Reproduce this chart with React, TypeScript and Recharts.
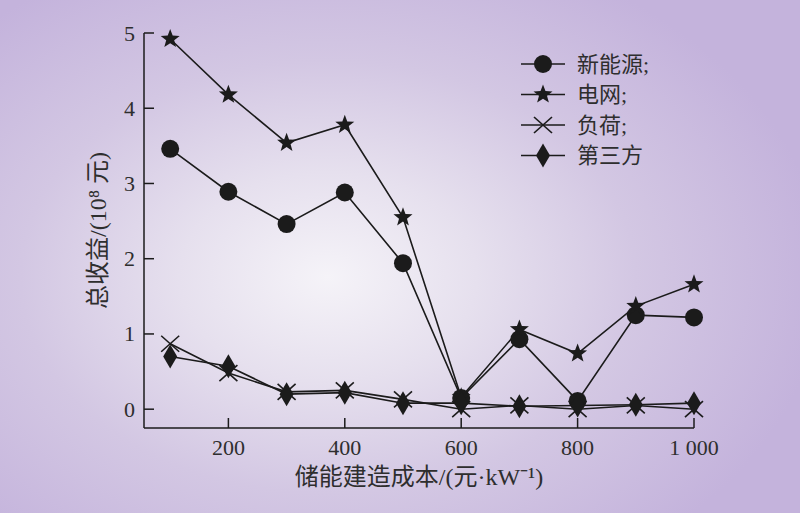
import React from 'react';
import { LineChart, Line, XAxis, YAxis, Legend } from 'recharts';

const costs = [100, 200, 300, 400, 500, 600, 700, 800, 900, 1000];
const newEnergy = [3.46, 2.89, 2.46, 2.88, 1.94, 0.15, 0.93, 0.11, 1.25, 1.22];
const grid = [4.92, 4.18, 3.54, 3.78, 2.55, 0.16, 1.06, 0.74, 1.37, 1.66];
const load = [0.87, 0.48, 0.23, 0.25, 0.13, 0.0, 0.05, 0.0, 0.05, 0.0];
const thirdParty = [0.7, 0.57, 0.2, 0.22, 0.08, 0.08, 0.04, 0.05, 0.06, 0.08];

const xTicks = [200, 400, 600, 800, 1000];
const yTicks = [0, 1, 2, 3, 4, 5];

const seriesNames = ['新能源;', '电网;', '负荷;', '第三方'];
const seriesKeys = ['newEnergy', 'grid', 'load', 'thirdParty'];
const seriesShapes = ['circle', 'star', 'cross', 'diamond'];

const data = costs.map((c, i) => ({
  cost: c,
  newEnergy: newEnergy[i],
  grid: grid[i],
  load: load[i],
  thirdParty: thirdParty[i],
}));

const INK = '#1b1b1b';
const TEXT = '#2e2e2e';
const FONT = "'Liberation Serif', 'Noto Sans CJK SC', serif";

function starPoints(cx: number, cy: number, ro: number, ri: number) {
  const pts: string[] = [];
  for (let i = 0; i < 10; i++) {
    const r = i % 2 === 0 ? ro : ri;
    const a = -Math.PI / 2 + (i * Math.PI) / 5;
    pts.push(`${cx + r * Math.cos(a)},${cy + r * Math.sin(a)}`);
  }
  return pts.join(' ');
}

function Marker({ shape, cx, cy }: { shape: string; cx: number; cy: number }) {
  if (shape === 'circle') return <circle cx={cx} cy={cy} r={9} fill={INK} />;
  if (shape === 'star') return <polygon points={starPoints(cx, cy, 10, 4.2)} fill={INK} />;
  if (shape === 'cross')
    return (
      <g stroke={INK} strokeWidth={1.6}>
        <line x1={cx - 9} y1={cy - 8} x2={cx + 9} y2={cy + 8} />
        <line x1={cx - 9} y1={cy + 8} x2={cx + 9} y2={cy - 8} />
      </g>
    );
  return (
    <polygon
      points={`${cx},${cy - 12} ${cx + 7},${cy} ${cx},${cy + 12} ${cx - 7},${cy}`}
      fill={INK}
    />
  );
}

const makeDot = (shape: string) => (props: any) => {
  const { cx, cy, index } = props;
  if (cx == null || cy == null) return <g key={`d-${shape}-${index}`} />;
  return (
    <g key={`d-${shape}-${index}`}>
      <Marker shape={shape} cx={cx} cy={cy} />
    </g>
  );
};

const YTick = (props: any) => {
  const { x, y, payload } = props;
  return (
    <g>
      <line x1={x} y1={y} x2={x + 10} y2={y} stroke={INK} strokeWidth={1.5} />
      <text x={x - 9} y={y} textAnchor="end" dominantBaseline="central" fontSize={22} fontFamily={FONT} fill={TEXT}>
        {payload.value}
      </text>
    </g>
  );
};

const fmtX = (v: number) => (v >= 1000 ? `${Math.floor(v / 1000)} ${String(v % 1000).padStart(3, '0')}` : String(v));

const XTick = (props: any) => {
  const { x, y, payload } = props;
  return (
    <g>
      <line x1={x} y1={y} x2={x} y2={y - 10} stroke={INK} strokeWidth={1.5} />
      <text x={x} y={y + 19} textAnchor="middle" dominantBaseline="central" fontSize={22} fontFamily={FONT} fill={TEXT}>
        {fmtX(payload.value)}
      </text>
    </g>
  );
};

const LegendContent = () => (
  <svg width={170} height={130}>
    {seriesNames.map((name, i) => {
      const cy = 16 + i * 30.5;
      return (
        <g key={name}>
          <line x1={0} y1={cy} x2={44} y2={cy} stroke={INK} strokeWidth={1.6} />
          <Marker shape={seriesShapes[i]} cx={22} cy={cy} />
          <text x={56} y={cy} dominantBaseline="central" fontSize={22} fontFamily={FONT} fill={TEXT}>
            {name}
          </text>
        </g>
      );
    })}
  </svg>
);

export default function App() {
  return (
    <div
      style={{
        position: 'absolute',
        left: 0,
        top: 0,
        width: 800,
        height: 513,
        background:
          'radial-gradient(ellipse 62% 68% at 41% 54%, #f5f3f8 0%, #e6e0ee 30%, #d3c7e3 62%, #c4b3dc 100%)',
      }}
    >
      <LineChart width={800} height={513} data={data} margin={{ top: 33, right: 106, bottom: 25, left: 84 }}>
        <XAxis
          dataKey="cost"
          type="number"
          domain={[55, 1000]}
          ticks={xTicks}
          height={60}
          tickSize={0}
          tickMargin={0}
          tick={<XTick />}
          axisLine={{ stroke: INK, strokeWidth: 1.5 }}
          tickLine={false}
          label={{
            value: '储能建造成本/(元·kW⁻¹)',
            position: 'insideBottom',
            offset: 3,
            fontSize: 24,
            fontFamily: FONT,
            fill: TEXT,
          }}
        />
        <YAxis
          type="number"
          domain={[-0.25, 5]}
          ticks={yTicks}
          width={60}
          tickSize={0}
          tickMargin={0}
          tick={<YTick />}
          axisLine={{ stroke: INK, strokeWidth: 1.5 }}
          tickLine={false}
          label={{
            value: '总收益/(10⁸ 元)',
            angle: -90,
            position: 'insideLeft',
            offset: 13,
            style: { textAnchor: 'middle' },
            fontSize: 24,
            fontFamily: FONT,
            fill: TEXT,
          }}
        />
        <Legend
          layout="vertical"
          align="center"
          verticalAlign="middle"
          content={<LegendContent />}
          wrapperStyle={{ left: 521, top: 48, width: 170, height: 130 }}
        />
        {seriesKeys.map((k, i) => (
          <Line
            key={k}
            dataKey={k}
            name={seriesNames[i]}
            stroke={INK}
            strokeWidth={1.6}
            dot={makeDot(seriesShapes[i])}
            activeDot={false}
            isAnimationActive={false}
          />
        ))}
      </LineChart>
    </div>
  );
}
